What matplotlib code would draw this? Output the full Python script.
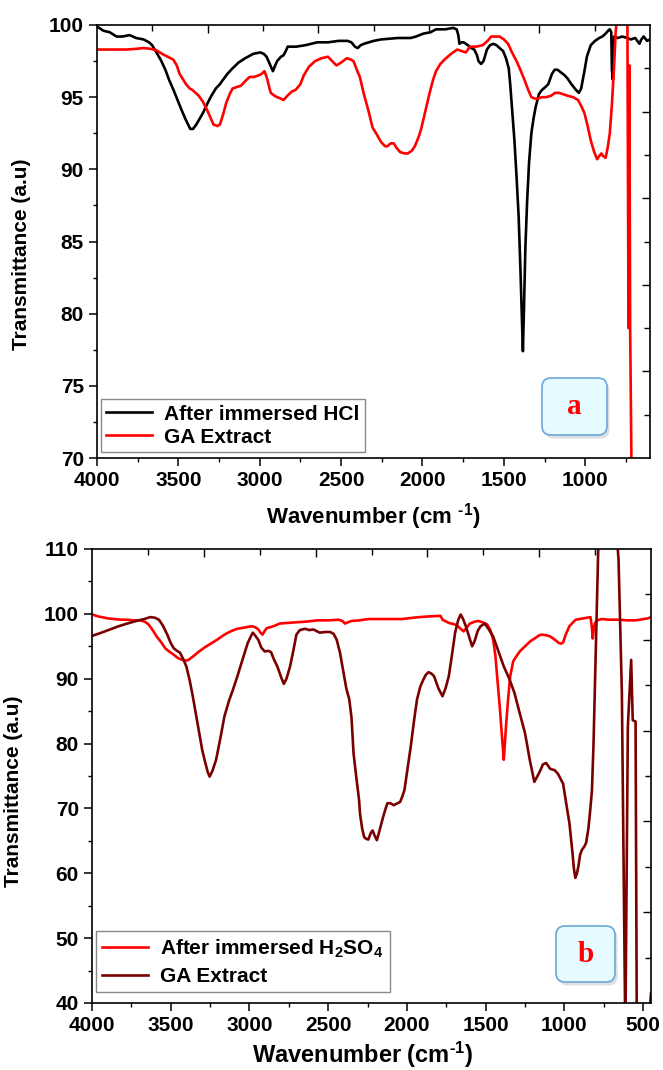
import numpy as np
import matplotlib
matplotlib.use("Agg")
import matplotlib.pyplot as plt
from matplotlib.patches import FancyBboxPatch
from matplotlib.ticker import MultipleLocator

plt.rcParams['font.family'] = ['Liberation Sans', 'DejaVu Sans']
plt.rcParams['font.weight'] = 'bold'
plt.rcParams['mathtext.fontset'] = 'custom'
plt.rcParams['mathtext.rm'] = 'Liberation Sans:bold'
plt.rcParams['mathtext.bf'] = 'Liberation Sans:bold'
plt.rcParams['mathtext.default'] = 'bf'

# ---- panel a : after immersion in HCl (black) and GA extract (red)
hcl_wn = [4000, 3960, 3922, 3880, 3844, 3800, 3760, 3714, 3680, 3661, 3630, 3609, 3580, 3557,
          3530, 3505, 3480, 3453, 3427, 3410, 3390, 3349, 3320, 3297, 3270, 3245, 3200, 3167,
          3130, 3089, 3040, 2997, 2975, 2958, 2935, 2919, 2905, 2893, 2870, 2854, 2840, 2828,
          2776, 2720, 2646, 2580, 2516, 2460, 2437, 2415, 2398, 2380, 2359, 2300, 2255, 2150,
          2073, 2040, 1995, 1950, 1917, 1860, 1812, 1790, 1780, 1773, 1760, 1747, 1721, 1700,
          1682, 1665, 1656, 1640, 1625, 1604, 1585, 1565, 1545, 1526, 1505, 1487, 1470, 1461,
          1448, 1435, 1422, 1409, 1398, 1390, 1383, 1376, 1368, 1357, 1345, 1331, 1318, 1305,
          1285, 1266, 1245, 1227, 1205, 1188, 1170, 1148, 1125, 1109, 1085, 1057, 1039, 1025,
          1005, 990, 966, 940, 914, 895, 875, 860, 849, 840, 836, 830, 825, 822, 800, 773, 740,
          720, 693, 680, 667, 655, 641, 620, 602]
hcl_t = [99.9, 99.6, 99.5, 99.2, 99.2, 99.3, 99.1, 99.0, 98.8, 98.6, 98.0, 97.6, 96.9, 96.2,
         95.5, 94.8, 94.1, 93.4, 92.8, 92.8, 93.1, 93.9, 94.6, 95.1, 95.6, 95.9, 96.6, 97.0,
         97.4, 97.7, 98.0, 98.1, 98.0, 97.8, 97.2, 96.8, 97.2, 97.5, 97.8, 97.9, 98.2, 98.5,
         98.5, 98.6, 98.8, 98.8, 98.9, 98.9, 98.8, 98.5, 98.4, 98.6, 98.7, 98.9, 99.0, 99.1,
         99.1, 99.2, 99.4, 99.5, 99.7, 99.7, 99.8, 99.7, 99.3, 98.7, 98.8, 98.8, 98.6, 98.4,
         98.3, 97.9, 97.5, 97.3, 97.5, 98.3, 98.6, 98.7, 98.6, 98.4, 98.2, 97.7, 97.0, 95.9,
         94.0, 92.0, 89.5, 86.7, 83.0, 80.0, 77.4, 80.5, 84.5, 87.8, 90.5, 92.5, 93.5, 94.3,
         95.2, 95.5, 95.7, 95.9, 96.6, 96.9, 96.9, 96.7, 96.5, 96.3, 95.9, 95.5, 95.3, 95.6,
         96.8, 97.8, 98.6, 98.9, 99.1, 99.2, 99.4, 99.6, 99.7, 99.5, 96.9, 96.2, 98.5, 99.2,
         99.1, 99.2, 99.1, 99.0, 99.1, 98.9, 98.7, 99.0, 99.2, 98.9, 99.0]

ga_a_wn = [4000, 3900, 3818, 3760, 3714, 3670, 3635, 3600, 3583, 3550, 3531, 3510, 3492, 3470,
           3453, 3430, 3414, 3395, 3375, 3350, 3323, 3300, 3284, 3260, 3245, 3225, 3206, 3185,
           3167, 3140, 3115, 3090, 3063, 3035, 3010, 2990, 2971, 2955, 2940, 2932, 2910, 2893,
           2870, 2854, 2830, 2802, 2780, 2750, 2730, 2698, 2660, 2620, 2581, 2555, 2529, 2500,
           2464, 2440, 2424, 2400, 2385, 2360, 2333, 2307, 2280, 2255, 2230, 2216, 2195, 2177,
           2160, 2138, 2110, 2090, 2065, 2047, 2025, 2008, 1985, 1956, 1935, 1917, 1890, 1865,
           1835, 1812, 1786, 1760, 1734, 1708, 1670, 1630, 1600, 1578, 1550, 1526, 1500, 1474,
           1450, 1422, 1395, 1370, 1350, 1331, 1310, 1292, 1265, 1240, 1210, 1185, 1161, 1135,
           1109, 1075, 1044, 1025, 1005, 985, 966, 945, 927, 915, 901, 888, 875, 862, 849, 836,
           823, 813, 805, 790, 760, 742, 734, 729, 724, 712]
ga_a_t = [98.3, 98.3, 98.3, 98.35, 98.4, 98.35, 98.25, 98.0, 97.9, 97.7, 97.6, 97.2, 96.6, 96.2,
          95.9, 95.6, 95.5, 95.3, 95.1, 94.7, 94.1, 93.5, 93.1, 93.0, 93.1, 93.8, 94.6, 95.2,
          95.6, 95.7, 95.8, 96.1, 96.4, 96.4, 96.5, 96.6, 96.8, 96.3, 95.6, 95.3, 95.1, 95.0,
          94.9, 94.8, 95.1, 95.4, 95.5, 95.9, 96.5, 97.1, 97.5, 97.7, 97.8, 97.5, 97.2, 97.4,
          97.7, 97.6, 97.5, 96.8, 96.4, 95.2, 94.1, 92.9, 92.4, 91.9, 91.6, 91.6, 91.8, 91.8,
          91.5, 91.2, 91.1, 91.1, 91.3, 91.6, 92.2, 92.8, 93.9, 95.3, 96.2, 96.8, 97.3, 97.6,
          97.9, 98.1, 98.3, 98.2, 98.1, 98.5, 98.5, 98.6, 98.9, 99.2, 99.2, 99.2, 99.0, 98.7,
          98.1, 97.5, 96.8, 96.1, 95.5, 95.0, 94.9, 94.9, 95.0, 95.0, 95.1, 95.3, 95.3, 95.2,
          95.1, 95.0, 94.8, 94.4, 93.9, 93.0, 92.0, 91.2, 90.7, 90.9, 91.1, 90.9, 90.8, 91.5,
          92.5, 94.5, 97.1, 99.5, 100.5, 103.0, 106.0, 104.0, 79.0, 97.2, 79.0, 65.0]

# ---- panel b : after immersion in H2SO4 (red) and GA extract (dark red)
h2so4_wn = [4000, 3960, 3938, 3900, 3858, 3820, 3777, 3740, 3696, 3665, 3642, 3615, 3589, 3560,
            3535, 3510, 3481, 3455, 3427, 3400, 3387, 3355, 3320, 3280, 3239, 3200, 3159, 3120,
            3078, 3030, 2984, 2960, 2944, 2930, 2917, 2905, 2890, 2860, 2836, 2809, 2760, 2702,
            2640, 2567, 2500, 2433, 2410, 2393, 2375, 2352, 2300, 2245, 2150, 2030, 1980, 1922,
            1860, 1788, 1780, 1774, 1750, 1734, 1700, 1680, 1660, 1640, 1620, 1600, 1570, 1546,
            1520, 1492, 1470, 1452, 1438, 1425, 1410, 1398, 1385, 1378, 1371, 1357, 1344, 1325,
            1304, 1280, 1250, 1215, 1183, 1160, 1143, 1115, 1089, 1060, 1035, 1020, 1008, 990,
            968, 945, 928, 880, 834, 826, 820, 813, 806, 790, 766, 720, 659, 600, 551, 520, 498,
            470, 450]
h2so4_t = [99.9, 99.6, 99.5, 99.3, 99.2, 99.1, 99.1, 99.0, 99.0, 98.8, 98.4, 97.5, 96.5, 95.6,
           94.7, 94.2, 93.7, 93.2, 92.9, 92.8, 92.9, 93.5, 94.2, 94.9, 95.5, 96.1, 96.8, 97.3,
           97.7, 97.9, 98.1, 97.9, 97.6, 97.1, 96.8, 97.3, 97.8, 98.0, 98.2, 98.5, 98.6, 98.7,
           98.8, 99.0, 99.0, 99.1, 98.9, 98.5, 98.7, 98.9, 99.0, 99.2, 99.2, 99.2, 99.35, 99.5,
           99.6, 99.7, 99.4, 99.1, 98.8, 98.6, 98.4, 98.2, 97.7, 97.3, 97.9, 98.5, 98.8, 98.9,
           98.7, 98.4, 97.5, 96.0, 93.5, 89.8, 85.5, 81.6, 77.5, 80.0, 82.6, 87.0, 90.4, 92.7,
           93.5, 94.3, 95.0, 95.8, 96.3, 96.7, 96.8, 96.7, 96.5, 96.0, 95.5, 95.4, 95.6, 96.9,
           98.1, 98.7, 99.1, 99.3, 99.5, 98.0, 96.2, 97.8, 98.6, 99.0, 99.2, 99.1, 99.1, 99.0,
           99.0, 99.1, 99.2, 99.3, 99.5]

ga_b_wn = [4000, 3940, 3884, 3830, 3777, 3720, 3669, 3629, 3600, 3575, 3550, 3522, 3500, 3481,
           3460, 3441, 3420, 3401, 3380, 3360, 3340, 3320, 3300, 3280, 3265, 3253, 3235, 3212,
           3185, 3159, 3130, 3105, 3075, 3051, 3030, 3011, 2990, 2979, 2965, 2944, 2925, 2903,
           2880, 2863, 2845, 2823, 2800, 2782, 2765, 2742, 2720, 2702, 2680, 2648, 2620, 2594,
           2570, 2554, 2520, 2487, 2465, 2446, 2425, 2406, 2385, 2366, 2352, 2339, 2320, 2304,
           2298, 2285, 2272, 2258, 2245, 2230, 2218, 2205, 2191, 2175, 2151, 2135, 2124, 2105,
           2084, 2060, 2043, 2030, 2016, 2000, 1976, 1955, 1936, 1915, 1895, 1880, 1863, 1845,
           1828, 1800, 1774, 1755, 1734, 1715, 1694, 1675, 1659, 1645, 1626, 1605, 1586, 1570,
           1550, 1532, 1505, 1480, 1452, 1420, 1385, 1350, 1317, 1285, 1250, 1220, 1191, 1175,
           1156, 1136, 1116, 1090, 1062, 1040, 1008, 990, 968, 950, 940, 931, 920, 910, 901,
           889, 874, 862, 847, 835, 825, 815, 804, 795, 785, 760, 700, 667, 656, 635, 613, 597,
           576, 566, 548, 540, 500, 470, 450]
ga_b_t = [96.6, 97.1, 97.6, 98.1, 98.5, 98.9, 99.2, 99.5, 99.4, 99.1, 98.2, 96.8, 95.5, 94.7,
          94.3, 94.0, 93.0, 91.9, 89.8, 87.3, 84.5, 81.6, 79.0, 77.0, 75.6, 74.9, 75.8, 77.5,
          80.8, 84.2, 86.6, 88.3, 90.5, 92.4, 94.0, 95.5, 96.6, 97.1, 96.7, 96.0, 94.8, 94.2,
          94.3, 94.1, 93.0, 91.9, 90.3, 89.2, 90.0, 91.9, 94.5, 96.8, 97.5, 97.7, 97.5, 97.6,
          97.3, 97.1, 97.2, 97.2, 96.9, 96.0, 94.0, 91.4, 88.5, 86.8, 84.0, 78.5, 74.5, 71.3,
          69.2, 67.0, 65.6, 65.3, 65.2, 66.2, 66.6, 65.8, 65.1, 66.5, 68.7, 70.0, 70.8, 70.8,
          70.5, 70.8, 71.0, 71.8, 72.8, 75.5, 79.5, 83.5, 86.8, 88.8, 89.9, 90.6, 91.0, 90.8,
          90.4, 88.5, 87.3, 88.5, 90.4, 93.5, 97.1, 99.0, 99.9, 99.3, 98.1, 96.5, 95.0, 95.8,
          97.4, 98.1, 98.5, 97.6, 96.5, 94.3, 91.9, 90.0, 87.8, 84.8, 81.6, 77.5, 74.1, 74.8,
          75.7, 76.8, 77.0, 76.1, 75.9, 75.3, 73.8, 71.0, 67.7, 63.5, 60.8, 59.3, 60.0, 61.2, 62.8,
          63.6, 64.1, 64.7, 67.0, 70.0, 72.8, 80.0, 90.9, 100.0, 110.0, 116.0, 116.0, 112.0,
          108.3, 87.8, 35.0, 82.6, 92.9, 83.6, 83.4, 35.0, 30.0, 35.0, 41.5]

fig = plt.figure(figsize=(6.63, 10.70), dpi=100)


def style_axes(ax, ylim, ymaj, ymin, xlim):
    ax.set_xlim(*xlim)
    ax.set_ylim(*ylim)
    ax.xaxis.set_major_locator(MultipleLocator(500))
    ax.xaxis.set_minor_locator(MultipleLocator(250))
    ax.yaxis.set_major_locator(MultipleLocator(ymaj))
    ax.yaxis.set_minor_locator(MultipleLocator(ymin))
    ax.tick_params(which='major', direction='out', length=6, width=1.1, labelsize=15)
    ax.tick_params(which='minor', direction='out', length=3, width=1.0)
    ax.tick_params(top=False, right=False)
    for lab in ax.get_xticklabels() + ax.get_yticklabels():
        lab.set_fontweight('bold')
    for sp in ax.spines.values():
        sp.set_linewidth(1.2)
    # top/right ticks of the original (independent scale, inward)
    ov = fig.add_axes(ax.get_position(), frameon=False)
    ov.set_xlim(0, 1)
    ov.set_ylim(0, 1)
    ov.xaxis.tick_top()
    ov.yaxis.tick_right()
    ov.set_xticks([0.2, 0.4, 0.6, 0.8])
    ov.set_xticks([0.1, 0.3, 0.5, 0.7, 0.9], minor=True)
    ov.set_yticks([0.2, 0.4, 0.6, 0.8])
    ov.set_yticks([0.1, 0.3, 0.5, 0.7, 0.9], minor=True)
    ov.tick_params(which='both', direction='in', labeltop=False, labelright=False,
                   width=1.0)
    ov.tick_params(which='major', length=6)
    ov.tick_params(which='minor', length=4)
    ov.patch.set_visible(False)


def tag_box(x0, y0, w, h, letter):
    shadow = FancyBboxPatch((x0 + 0.025, y0 - 0.035), w, h,
                            boxstyle='round,pad=0,rounding_size=0.09',
                            transform=fig.dpi_scale_trans, fc='#9aa4ad', ec='none',
                            alpha=0.35, zorder=9)
    box = FancyBboxPatch((x0, y0), w, h, boxstyle='round,pad=0,rounding_size=0.09',
                         transform=fig.dpi_scale_trans, fc='#e6fbff', ec='#6ea6d6',
                         lw=1.2, zorder=10)
    fig.add_artist(shadow)
    fig.add_artist(box)
    fig.text((x0 + w / 2) / 6.63, (y0 + h / 2) / 10.70, letter, color='#ff0000',
             fontsize=21, fontweight='bold', family='Liberation Serif',
             ha='center', va='center', zorder=11)


# panel a
ax1 = fig.add_axes([97 / 663, 1 - 458 / 1070, 553 / 663, 433 / 1070])
ax1.plot(hcl_wn, hcl_t, color='black', lw=1.9, label='After immersed HCl')
ax1.plot(ga_a_wn, ga_a_t, color='#ff0000', lw=1.9, label='GA Extract')
style_axes(ax1, (70, 100), 5, 2.5, (4000, 602))
ax1.set_ylabel('Transmittance (a.u)', fontsize=15, fontweight='bold')
ax1.yaxis.set_label_coords(-0.119, 0.47)
ax1.set_xlabel(r'Wavenumber (cm $^{\text{-}1}$)', fontsize=16, fontweight='bold')
ax1.xaxis.set_label_coords(0.499, -0.100)
leg1 = ax1.legend(loc='lower left', bbox_to_anchor=(0.007, 0.014), borderaxespad=0,
                  fancybox=False, edgecolor='#8a8a8a', framealpha=1,
                  handlelength=2.2, handletextpad=0.6, labelspacing=0.2,
                  borderpad=0.25, prop={'weight': 'bold', 'size': 15})
leg1.get_frame().set_linewidth(1.0)
tag_box(5.42, 6.35, 0.65, 0.57, 'a')

# panel b
ax2 = fig.add_axes([92 / 663, 1 - 1003 / 1070, 559 / 663, 454 / 1070])
ax2.plot(h2so4_wn, h2so4_t, color='#ff0000', lw=1.9, label=r'After immersed H$_2$SO$_4$')
ax2.plot(ga_b_wn, ga_b_t, color='#7a0000', lw=1.9, label='GA Extract')
style_axes(ax2, (40, 110), 10, 5, (4000, 450))
ax2.set_ylabel('Transmittance (a.u)', fontsize=15, fontweight='bold')
ax2.yaxis.set_label_coords(-0.123, 0.467)
ax2.set_xlabel(r'Wavenumber (cm$^{\text{-}1}$)', fontsize=17, fontweight='bold')
ax2.xaxis.set_label_coords(0.485, -0.082)
leg2 = ax2.legend(loc='lower left', bbox_to_anchor=(0.007, 0.024), borderaxespad=0,
                  fancybox=False, edgecolor='#8a8a8a', framealpha=1,
                  handlelength=2.2, handletextpad=0.6, labelspacing=0.35,
                  borderpad=0.3, prop={'weight': 'bold', 'size': 15})
leg2.get_frame().set_linewidth(1.0)
tag_box(5.56, 0.88, 0.59, 0.56, 'b')

fig.savefig('out.png', dpi=100)
